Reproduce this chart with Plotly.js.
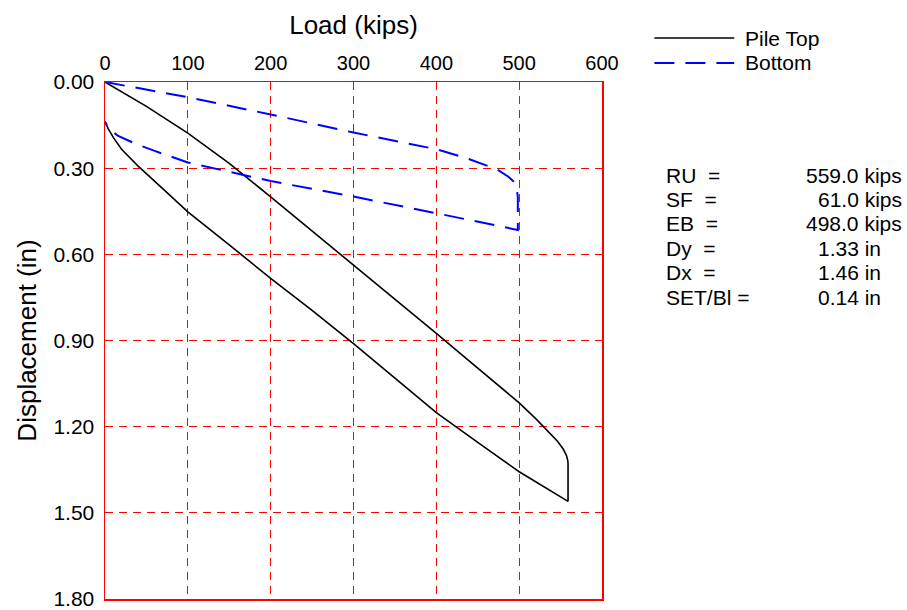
<!DOCTYPE html>
<html>
<head>
<meta charset="utf-8">
<script src="https://cdn.plot.ly/plotly-3.0.1.min.js"></script>
<style>html,body{margin:0;padding:0;background:#fff;}#chart{width:907px;height:610px;}</style>
</head>
<body>
<div id="chart"></div>
<script>
// Pile Top trace (load in kips, displacement in inches)
var topLoad = [0, 50, 100, 150, 200, 250, 300, 350, 400, 450, 500, 520, 535, 546, 553, 557, 558.7, 559, 559,
               530, 500, 450, 400, 350, 300, 250, 200, 150, 100, 70, 40, 20, 10, 4, 0];
var topDisp = [0, 0.085, 0.178, 0.283, 0.400, 0.518, 0.637, 0.756, 0.875, 0.996, 1.117, 1.172, 1.215, 1.250, 1.277, 1.300, 1.318, 1.33, 1.46,
               1.409, 1.357, 1.255, 1.151, 1.031, 0.911, 0.795, 0.684, 0.567, 0.452, 0.372, 0.293, 0.234, 0.193, 0.163, 0.138];
// Bottom trace
var bottomLoad = [0, 100, 200, 300, 400, 437, 473, 487, 494, 497, 498.4, 498.4,
                  400, 300, 200, 150, 100, 60, 36, 16, 7, 3, 0];
var bottomDisp = [0, 0.053, 0.113, 0.176, 0.234, 0.266, 0.304, 0.330, 0.348, 0.37, 0.40, 0.515,
                  0.457, 0.399, 0.345, 0.313, 0.280, 0.240, 0.214, 0.188, 0.168, 0.155, 0.138];
// Axis ticks
var xTicks = [0, 100, 200, 300, 400, 500, 600];
var yTicks = [0, 0.3, 0.6, 0.9, 1.2, 1.5, 1.8];
var yTickText = ["0.00", "0.30", "0.60", "0.90", "1.20", "1.50", "1.80"];
// Summary block
var statLabels = ["RU  =", "SF  =", "EB  =", "Dy  =", "Dx  =", "SET/Bl ="];
var statValues = ["559.0 kips", "61.0 kips", "498.0 kips", "1.33 in", "1.46 in", "0.14 in"];
var seriesNames = ["Pile Top", "Bottom"];

// ---- styling / placement (pixels) ----
var fontFam = "Liberation Sans, Arial, sans-serif";
var L = 104.5, R = 602.5, T = 82, B = 599;
function px2x(px) { return (px - L) / (R - L); }
function py2y(py) { return 1 - (py - T) / (B - T); }
var statValueLeft = [805, 817, 805, 817, 817, 817];
var seriesColors = ["#000000", "#0000ff"];
var seriesDash = ["solid", "20px,11px"];
var seriesWidth = [1.6, 2];

var traces = [
  {x: topLoad, y: topDisp, name: seriesNames[0], mode: "lines", type: "scatter",
   line: {color: seriesColors[0], width: seriesWidth[0], dash: seriesDash[0]}},
  {x: bottomLoad, y: bottomDisp, name: seriesNames[1], mode: "lines", type: "scatter",
   line: {color: seriesColors[1], width: seriesWidth[1], dash: seriesDash[1]}}
];

var annotations = [];
var shapes = [];
for (var i = 0; i < statLabels.length; i++) {
  var yy = py2y(175 + i * 24.4);
  annotations.push({xref: "paper", yref: "paper", x: px2x(665), y: yy, xanchor: "left", yanchor: "middle",
    text: statLabels[i], showarrow: false, font: {family: fontFam, size: 21, color: "#000"}});
  annotations.push({xref: "paper", yref: "paper", x: px2x(statValueLeft[i]), y: yy, xanchor: "left", yanchor: "middle",
    text: statValues[i], showarrow: false, font: {family: fontFam, size: 21, color: "#000"}});
}
// legend (drawn by hand to match the long sample lines)
for (var j = 0; j < seriesNames.length; j++) {
  var ly = py2y(38 + j * 25);
  shapes.push({type: "line", xref: "paper", yref: "paper", x0: px2x(655), x1: px2x(735), y0: ly, y1: ly,
    line: {color: seriesColors[j], width: seriesWidth[j] - 0.2, dash: seriesDash[j]}});
  annotations.push({xref: "paper", yref: "paper", x: px2x(744), y: ly, xanchor: "left", yanchor: "middle",
    text: seriesNames[j], showarrow: false, font: {family: fontFam, size: 21, color: "#000"}});
}

var layout = {
  width: 907, height: 610,
  margin: {l: L, r: 907 - R, t: T, b: 610 - B, pad: 0},
  paper_bgcolor: "#fff", plot_bgcolor: "#fff",
  font: {family: fontFam, size: 21, color: "#000"},
  showlegend: false,
  xaxis: {side: "top", range: [0, 600], tickmode: "array", tickvals: xTicks, showgrid: true, gridcolor: "#ff0000", griddash: "8px,6px",
    gridwidth: 1, zeroline: false, showline: true, linecolor: "#ff0000", linewidth: 1.5, mirror: true, ticks: "",
    ticklabelstandoff: 3, ticklabeloverflow: "allow", tickfont: {family: fontFam, size: 20, color: "#000"},
    title: {text: "Load (kips)", font: {family: fontFam, size: 26, color: "#000"}, standoff: 9}},
  yaxis: {range: [1.8, 0], tickmode: "array", tickvals: yTicks, ticktext: yTickText, showgrid: true, gridcolor: "#ff0000", griddash: "8px,6px",
    gridwidth: 1, zeroline: false, showline: true, linecolor: "#ff0000", linewidth: 1.5, mirror: true, ticks: "",
    ticklabelstandoff: 5, ticklabeloverflow: "allow", tickfont: {family: fontFam, size: 21, color: "#000"},
    title: {text: "Displacement (in)", font: {family: fontFam, size: 26, color: "#000"}, standoff: 9}},
  annotations: annotations,
  shapes: shapes
};

Plotly.newPlot("chart", traces, layout, {displayModeBar: false, staticPlot: true});
</script>
</body>
</html>
